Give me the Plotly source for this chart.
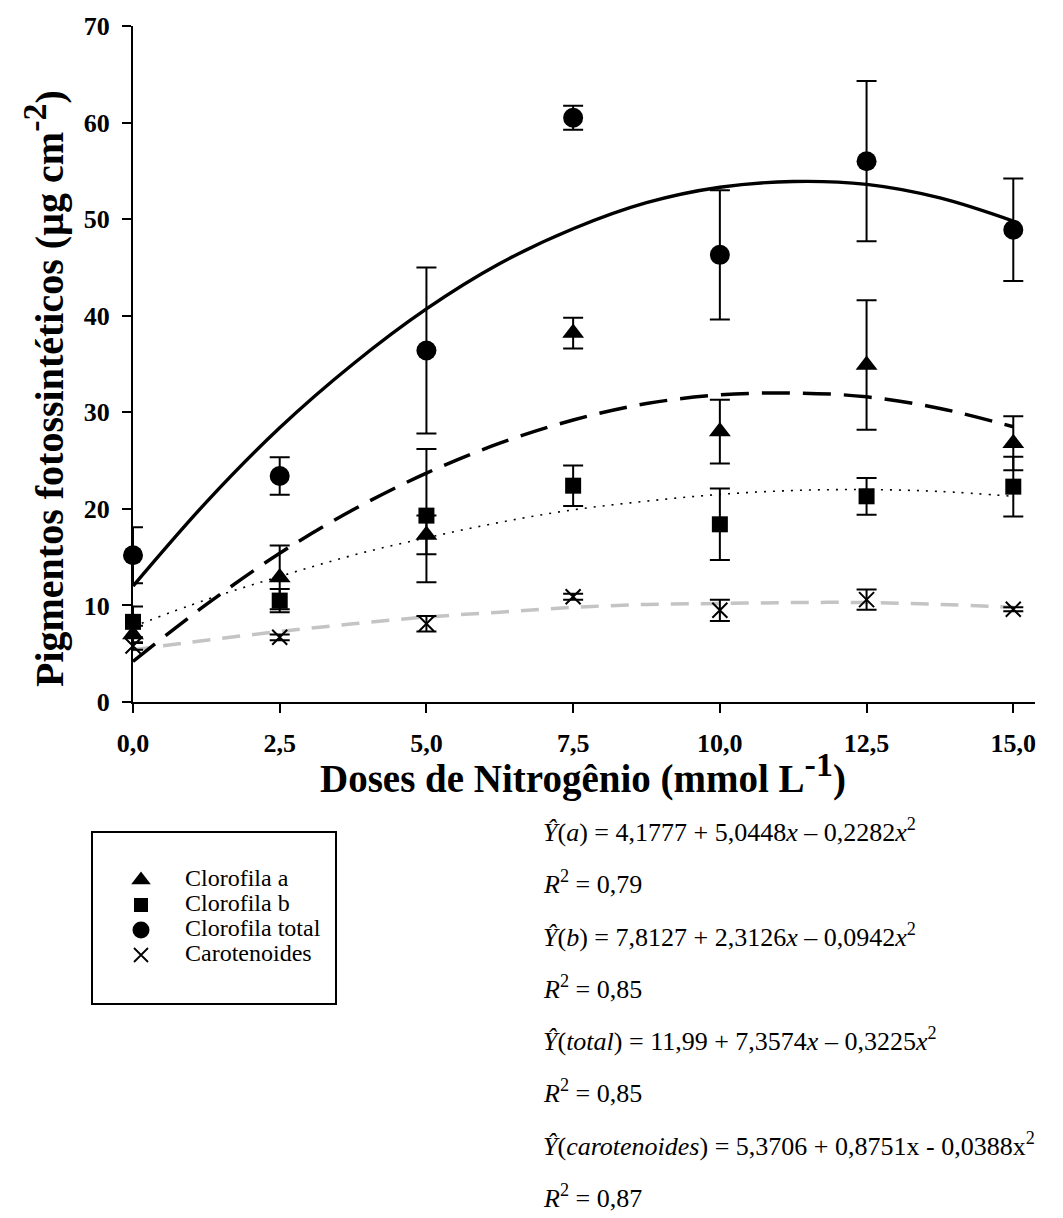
import plotly.graph_objects as go

# ---------------- data ----------------
doses = [0.0, 2.5, 5.0, 7.5, 10.0, 12.5, 15.0]

clor_a = [7.0, 12.9, 17.3, 38.2, 28.0, 34.9, 26.8]
clor_a_err = [0.9, 3.3, 2.0, 1.6, 3.3, 6.7, 2.8]

clor_b = [8.3, 10.5, 19.3, 22.4, 18.4, 21.3, 22.3]
clor_b_err = [1.6, 1.2, 6.9, 2.1, 3.7, 1.9, 3.1]

clor_total = [15.2, 23.4, 36.4, 60.5, 46.3, 56.0, 48.9]
clor_total_err = [2.9, 1.95, 8.6, 1.25, 6.7, 8.3, 5.3]

carot = [5.8, 6.7, 8.1, 10.9, 9.5, 10.6, 9.6]
carot_err = [0.4, 0.3, 0.8, 0.3, 1.1, 1.05, 0.2]

# fitted curves, values
curve_x = [0.0, 1.25, 2.5, 3.75, 5.0, 6.25, 7.5, 8.75, 10.0, 11.25, 12.5, 13.75, 15.0]
fit_a = [4.2, 10.1, 15.4, 19.9, 23.7, 26.8, 29.2, 30.9, 31.8, 32.0, 31.6, 30.4, 28.5]
fit_b = [7.8, 10.6, 13.0, 15.2, 17.0, 18.6, 19.9, 20.8, 21.5, 21.9, 22.0, 21.8, 21.3]
fit_total = [12.0, 20.7, 28.4, 35.0, 40.7, 45.4, 49.0, 51.7, 53.3, 53.9, 53.6, 52.2, 49.8]
fit_carot = [5.4, 6.4, 7.3, 8.1, 8.8, 9.3, 9.8, 10.1, 10.2, 10.3, 10.3, 10.1, 9.8]

series_names = ["Clorofila a", "Clorofila b", "Clorofila total", "Carotenoides"]

x_tickvals = [0, 2.5, 5, 7.5, 10, 12.5, 15]
x_ticktext = ["0,0", "2,5", "5,0", "7,5", "10,0", "12,5", "15,0"]
y_tickvals = [0, 10, 20, 30, 40, 50, 60, 70]

equations = [
    "<i>Ŷ</i>(<i>a</i>) = 4,1777 + 5,0448<i>x</i> – 0,2282<i>x</i><sup>2</sup>",
    "<i>R</i><sup>2</sup> = 0,79",
    "<i>Ŷ</i>(<i>b</i>) = 7,8127 + 2,3126<i>x</i> – 0,0942<i>x</i><sup>2</sup>",
    "<i>R</i><sup>2</sup> = 0,85",
    "<i>Ŷ</i>(<i>total</i>) = 11,99 + 7,3574<i>x</i> – 0,3225<i>x</i><sup>2</sup>",
    "<i>R</i><sup>2</sup> = 0,85",
    "<i>Ŷ</i>(<i>carotenoides</i>) = 5,3706 + 0,8751x - 0,0388x<sup>2</sup>",
    "<i>R</i><sup>2</sup> = 0,87",
]

# ---------------- layout geometry (pixels) ----------------
W, H = 1063, 1218
ML, MR, MT, MB = 40, 28, 26, 0           # paper margins
PAPER_L, PAPER_R, PAPER_T, PAPER_B = ML, W - MR, MT, H - MB
PL, PR, PT, PB = 133, 1035, 26, 702      # main plot area
LL, LR, LT, LB = 93, 335, 833, 1003      # legend box


def px_x(px):
    return (px - PAPER_L) / (PAPER_R - PAPER_L)


def px_y(py):
    return (PAPER_B - py) / (PAPER_B - PAPER_T)


SERIF = "Liberation Serif, Times New Roman, serif"
BLACK = "black"

fig = go.Figure()

# fitted curves
fig.add_trace(go.Scatter(x=curve_x, y=fit_carot, mode="lines", line_shape="spline",
                         line=dict(color="#c4c4c4", width=3.5, dash="18px,12px"),
                         showlegend=False, hoverinfo="skip"))
fig.add_trace(go.Scatter(x=curve_x, y=fit_b, mode="lines", line_shape="spline",
                         line=dict(color=BLACK, width=1.6, dash="2px,7px"),
                         showlegend=False, hoverinfo="skip"))
fig.add_trace(go.Scatter(x=curve_x, y=fit_a, mode="lines", line_shape="spline",
                         line=dict(color=BLACK, width=3.5, dash="28px,13px"),
                         showlegend=False, hoverinfo="skip"))
fig.add_trace(go.Scatter(x=curve_x, y=fit_total, mode="lines", line_shape="spline",
                         line=dict(color=BLACK, width=3.4),
                         showlegend=False, hoverinfo="skip"))


def err(vals):
    return dict(type="data", array=vals, visible=True, color=BLACK, thickness=2, width=10)


symbols = ["triangle-up", "square", "circle", "x-thin-open"]
sizes = [19, 16, 20, 15]
ys = [clor_a, clor_b, clor_total, carot]
errs = [clor_a_err, clor_b_err, clor_total_err, carot_err]
for name, sym, sz, yv, ev in zip(series_names, symbols, sizes, ys, errs):
    fig.add_trace(go.Scatter(x=doses, y=yv, mode="markers", name=name,
                             marker=dict(symbol=sym, size=sz, color=BLACK,
                                         line=dict(color=BLACK, width=2 if "x" in sym else 0)),
                             error_y=err(ev), cliponaxis=False, showlegend=False))

# ---------------- legend drawn on its own small axes ----------------
leg_marker_x = (141 - LL) / (LR - LL)
leg_text_x = (185 - LL) / (LR - LL)
leg_rows = [880, 905, 930, 955]
leg_y = [(LB - r) / (LB - LT) for r in leg_rows]
fig.add_trace(go.Scatter(x=[leg_marker_x] * 4, y=leg_y, mode="markers",
                         marker=dict(symbol=symbols, size=[17, 14, 17, 14], color=BLACK,
                                     line=dict(color=BLACK, width=[0, 0, 0, 1.8]),
                                     opacity=1),
                         xaxis="x2", yaxis="y2", showlegend=False, hoverinfo="skip",
                         cliponaxis=False))
fig.add_trace(go.Scatter(x=[leg_text_x] * 4, y=leg_y, mode="text", text=series_names,
                         textposition="middle right",
                         textfont=dict(family=SERIF, size=24, color=BLACK),
                         xaxis="x2", yaxis="y2", showlegend=False, hoverinfo="skip",
                         cliponaxis=False))

annotations = []
annotations.append(dict(
    text="<b>Pigmentos fotossintéticos (µg cm<sup><span style='font-size:34px'>-2</span></sup>)</b>",
    x=px_x(44), y=px_y(389), xref="paper", yref="paper", textangle=-90,
    showarrow=False, font=dict(family=SERIF, size=40, color=BLACK),
    xanchor="center", yanchor="middle"))
annotations.append(dict(
    text="<b>Doses de Nitrogênio (mmol L<sup><span style='font-size:34px'>-1</span></sup>)</b>",
    x=px_x(583), y=px_y(774), xref="paper", yref="paper",
    showarrow=False, font=dict(family=SERIF, size=39, color=BLACK),
    xanchor="center", yanchor="middle"))

eq_y = [830, 882, 935, 987, 1039, 1091, 1144, 1196]
for txt, yy in zip(equations, eq_y):
    annotations.append(dict(text=txt, x=px_x(541), y=px_y(yy), xref="paper", yref="paper",
                            showarrow=False, xanchor="left", yanchor="middle",
                            font=dict(family=SERIF, size=26, color=BLACK)))

fig.update_layout(
    width=W, height=H,
    margin=dict(l=ML, r=MR, t=MT, b=MB, pad=0, autoexpand=False),
    paper_bgcolor="white", plot_bgcolor="white",
    font=dict(family=SERIF, color=BLACK),
    showlegend=False,
    xaxis=dict(domain=[px_x(PL), px_x(PR)], anchor="y", automargin=False,
               range=[0, 15.37], tickvals=x_tickvals,
               ticktext=["<b>%s</b>" % t for t in x_ticktext],
               showline=True, linecolor=BLACK, linewidth=2,
               ticks="outside", ticklen=9, tickwidth=2, tickcolor=BLACK,
               showgrid=False, zeroline=False,
               tickfont=dict(family=SERIF, size=26, color=BLACK),
               ticklabelstandoff=8),
    yaxis=dict(domain=[px_y(PB), px_y(PT)], anchor="x", automargin=False,
               range=[0, 70], tickvals=y_tickvals,
               ticktext=["<b>%d</b>" % v for v in y_tickvals],
               showline=True, linecolor=BLACK, linewidth=2,
               ticks="outside", ticklen=9, tickwidth=2, tickcolor=BLACK,
               showgrid=False, zeroline=False,
               tickfont=dict(family=SERIF, size=26, color=BLACK),
               ticklabelstandoff=7),
    xaxis2=dict(domain=[px_x(LL), px_x(LR)], anchor="y2", range=[0, 1], automargin=False,
                showline=True, mirror=True, linecolor=BLACK, linewidth=2,
                showticklabels=False, ticks="", showgrid=False, zeroline=False,
                fixedrange=True),
    yaxis2=dict(domain=[px_y(LB), px_y(LT)], anchor="x2", range=[0, 1], automargin=False,
                showline=True, mirror=True, linecolor=BLACK, linewidth=2,
                showticklabels=False, ticks="", showgrid=False, zeroline=False,
                fixedrange=True),
    annotations=annotations,
    hovermode=False,
)

fig.write_html("out.html")
